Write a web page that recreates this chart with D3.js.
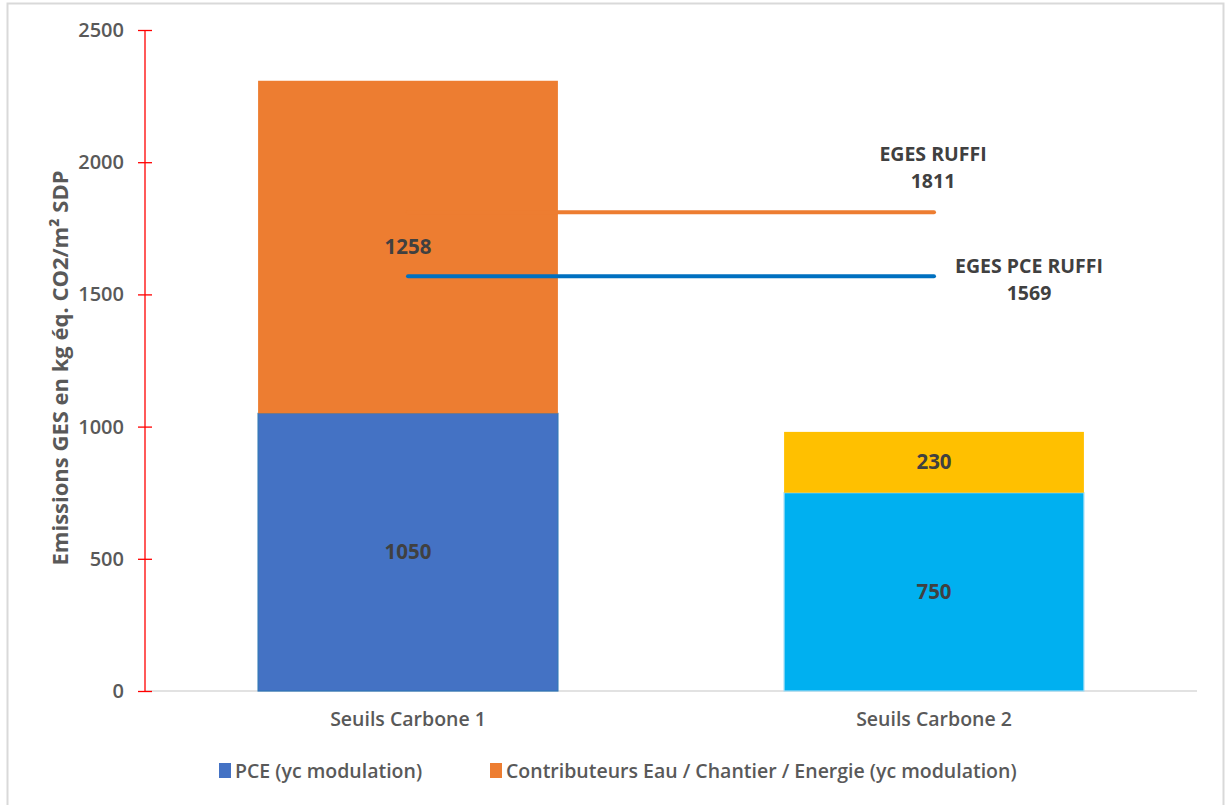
<!DOCTYPE html>
<html><head><meta charset="utf-8">
<script src="https://cdn.jsdelivr.net/npm/d3@7"></script>
<style>body{margin:0;background:#fff;} svg{display:block;font-family:"Open Sans",sans-serif;}</style>
</head><body>
<svg id="c" width="1225" height="805"></svg>
<script>
const categories = ["Seuils Carbone 1", "Seuils Carbone 2"];
const baseValues = [1050, 750];
const topValues = [1258, 230];
const baseColors = ["#4472C4", "#00B0F0"];
const topColors = ["#ED7D31", "#FFC000"];
const refLines = [
  {name: "EGES RUFFI", value: 1811, color: "#ED7D31"},
  {name: "EGES PCE RUFFI", value: 1569, color: "#0070C0"}
];
const yTicks = [0, 500, 1000, 1500, 2000, 2500];
const legendItems = [
  {label: "PCE (yc modulation)", color: "#4472C4"},
  {label: "Contributeurs Eau / Chantier / Energie (yc modulation)", color: "#ED7D31"}
];

(function () {
const svg = d3.select("#c");
svg.append("rect").attr("x", 7.5).attr("y", 3.5).attr("width", 1216).attr("height", 810)
  .attr("fill", "#fff").attr("stroke", "#d9d9d9").attr("stroke-width", 2);

const pLeft = 145, pRight = 1197, pTop = 30, pBottom = 691;
const x = d3.scaleBand().domain(categories).range([pLeft, pRight]).paddingInner(0.43).paddingOuter(0.215);
const y = d3.scaleLinear().domain([0, 2500]).range([pBottom, pTop]);

// baseline
svg.append("line").attr("x1", pLeft).attr("x2", pRight).attr("y1", pBottom).attr("y2", pBottom)
  .attr("stroke", "#d9d9d9").attr("stroke-width", 1.5);

// bars
categories.forEach((c, i) => {
  const bx = x(c), bw = x.bandwidth();
  svg.append("rect").attr("x", bx).attr("y", y(baseValues[i])).attr("width", bw)
    .attr("height", y(0) - y(baseValues[i])).attr("fill", baseColors[i])
    .attr("stroke", i === 0 ? "#2E75B6" : "#9fdcf5").attr("stroke-width", 1.2);
  svg.append("rect").attr("x", bx).attr("y", y(baseValues[i] + topValues[i])).attr("width", bw)
    .attr("height", y(baseValues[i]) - y(baseValues[i] + topValues[i])).attr("fill", topColors[i]);
  svg.append("text").attr("x", bx + bw / 2).attr("y", y(baseValues[i] / 2)).attr("dy", "0.35em")
    .attr("text-anchor", "middle").attr("font-size", 20.5).attr("font-weight", 700).attr("fill", "#404040")
    .text(baseValues[i]);
  svg.append("text").attr("x", bx + bw / 2).attr("y", y(baseValues[i] + topValues[i] / 2)).attr("dy", "0.35em")
    .attr("text-anchor", "middle").attr("font-size", 20.5).attr("font-weight", 700).attr("fill", "#404040")
    .text(topValues[i]);
});

// reference lines
const cx0 = x(categories[0]) + x.bandwidth() / 2, cx1 = x(categories[1]) + x.bandwidth() / 2;
refLines.forEach((r) => {
  svg.append("line").attr("x1", cx0).attr("x2", cx1).attr("y1", y(r.value)).attr("y2", y(r.value))
    .attr("stroke", r.color).attr("stroke-width", 4).attr("stroke-linecap", "round");
});
const labelPos = [{dx: -1, dy: -51}, {dx: 95, dy: -3}];
refLines.forEach((r, i) => {
  const t = svg.append("text").attr("x", cx1 + labelPos[i].dx).attr("y", y(r.value) + labelPos[i].dy)
    .attr("text-anchor", "middle").attr("font-size", 19.5).attr("font-weight", 700).attr("fill", "#404040");
  t.append("tspan").attr("x", cx1 + labelPos[i].dx).text(r.name);
  t.append("tspan").attr("x", cx1 + labelPos[i].dx).attr("dy", 27).text(r.value);
});

// y axis
const ya = svg.append("g").attr("transform", `translate(${pLeft},0)`)
  .call(d3.axisLeft(y).tickValues(yTicks).tickFormat(d3.format("d")).tickSize(7).tickPadding(14));
ya.select(".domain").attr("stroke", "#FF0000").attr("stroke-width", 1.3).attr("d", `M0,${pTop}V${pBottom}`);
ya.selectAll(".tick line").attr("stroke", "#FF0000").attr("stroke-width", 1.3).attr("x1", 7).attr("x2", -7);
ya.selectAll(".tick text").attr("font-size", 20).attr("font-weight", 600).attr("fill", "#595959")
  .attr("font-family", "Open Sans");

svg.append("text").attr("transform", `translate(68,368) rotate(-90)`).attr("text-anchor", "middle")
  .attr("font-size", 22).attr("font-weight", 700).attr("fill", "#595959")
  .text("Emissions GES en kg éq. CO2/m² SDP");

// x axis labels
const xa = svg.append("g").attr("transform", `translate(0,${pBottom})`)
  .call(d3.axisBottom(x).tickSize(0).tickPadding(21));
xa.select(".domain").remove();
xa.selectAll(".tick text").attr("font-size", 19.5).attr("font-weight", 600).attr("fill", "#595959")
  .attr("font-family", "Open Sans");

// legend
const legX = [219, 490];
legendItems.forEach((d, i) => {
  svg.append("rect").attr("x", legX[i]).attr("y", 763).attr("width", 12).attr("height", 15).attr("fill", d.color);
  svg.append("text").attr("x", legX[i] + 16).attr("y", 771).attr("dy", "0.35em")
    .attr("font-size", 19.5).attr("font-weight", 600).attr("fill", "#595959").text(d.label);
});
})();
</script>
</body></html>
